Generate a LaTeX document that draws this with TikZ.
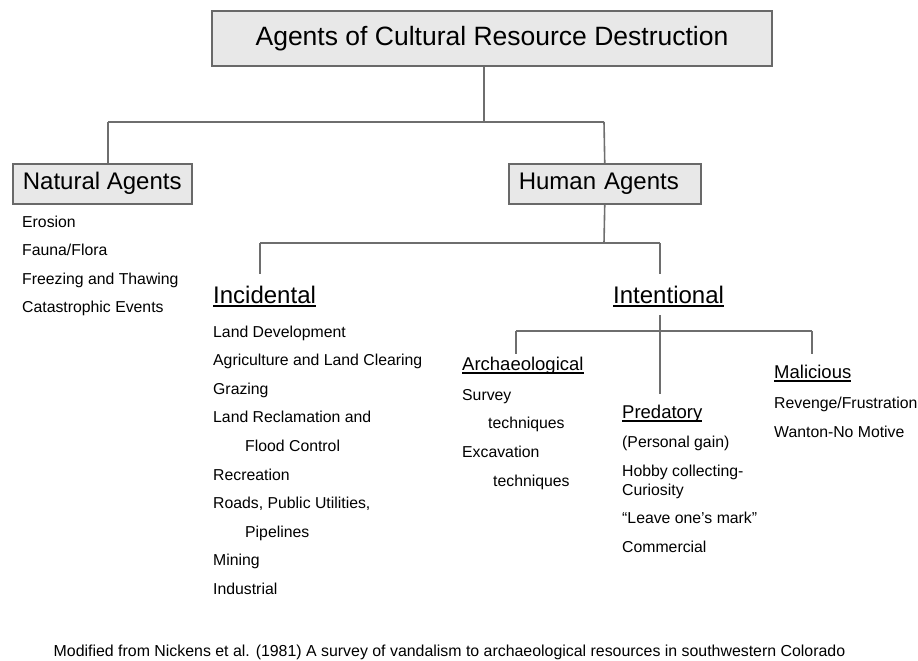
\documentclass[tikz,border=0pt]{standalone}
\usepackage{fontspec}
\setmainfont{Liberation Sans}

\definecolor{boxfill}{RGB}{232,232,232}
\definecolor{boxline}{RGB}{105,105,105}
\definecolor{linegray}{RGB}{110,110,110}

% underlined heading, thicker rule than \underline
\newcommand\undl[1]{\leavevmode\setbox0=\hbox{#1}\rlap{\vrule width\wd0 height-2pt depth3.6pt}\box0}

\begin{document}
\begin{tikzpicture}[
			x=1pt,y=1pt,
			agentbox/.style={
				rectangle,
				draw=boxline,
				fill=boxfill,
				line width=1.5pt,
				minimum height=40pt,
				inner xsep=10pt,
				inner ysep=0pt,
				align=left,
				anchor=north west,
				font=\fontsize{24}{28}\selectfont,
			},
			headline/.style={
				anchor=base west,
				inner sep=0pt,
				font=\fontsize{24}{28}\selectfont,
			},
			subline/.style={
				anchor=base west,
				inner sep=0pt,
				font=\fontsize{18.5}{22}\selectfont,
			},
			itemlist/.style={
				anchor=north west,
				inner sep=0pt,
				align=left,
				font=\fontsize{15.8}{28.6}\selectfont,
			},
			link/.style={
				draw=linegray,
				line width=1.6pt,
			}]
		\useasboundingbox (0,0) rectangle (918,-661);

		\node[rectangle,draw=boxline,fill=boxfill,line width=1.5pt,
			minimum width=560pt,minimum height=55pt,inner sep=0pt,
			font=\fontsize{26.5}{30}\selectfont] (title) at (492,-38.5)
			{Agents of Cultural Resource Destruction};

		\node[agentbox,minimum width=179pt,inner xsep=0pt,align=center] (natural) at (12,-163) {Natural Agents};
		\node[agentbox,text width=172pt] (human)   at (508,-163) {Human Agents};

		\node[itemlist] (natlist) at (22,-215.5)
			{Erosion\\Fauna/Flora\\Freezing and Thawing\\Catastrophic Events};

		\node[headline] (incidental)  at (213,-303) {\undl{Incidental}};
		\node[headline] (intentional) at (613,-303) {\undl{Intentional}};

		\node[itemlist] (incilist) at (213,-325.5)
			{Land Development\\Agriculture and Land Clearing\\Grazing\\
			Land Reclamation and\\\hspace*{32pt}Flood Control\\Recreation\\
			Roads, Public Utilities,\\\hspace*{32pt}Pipelines\\Mining\\Industrial};

		\node[subline] (archaeo)   at (462,-370) {\undl{Archaeological}};
		\node[subline] (predatory) at (622,-418) {\undl{Predatory}};
		\node[subline] (malicious) at (774,-378) {\undl{Malicious}};

		\node[itemlist] (arclist) at (462,-389)
			{Survey\\\hspace*{26pt}techniques\\Excavation\\\hspace*{31pt}techniques};
		\node[itemlist] (predlist) at (622,-436)
			{(Personal gain)\\Hobby collecting-\\[-9.6pt]Curiosity\\%
			“Leave one’s mark”\\Commercial};
		\node[itemlist] (mallist) at (774,-397)
			{Revenge/Frustration\\Wanton-No Motive};

		\node[anchor=base,inner sep=0pt,font=\fontsize{15.9}{18}\selectfont] (source) at (449.5,-656)
			{Modified from Nickens et al. (1981) A survey of vandalism to archaeological resources in southwestern Colorado};

		% tree lines
		\coordinate (j1)  at (484,-122);
		\coordinate (j1l) at (108,-122);
		\coordinate (j1r) at (604,-122);
		\coordinate (j2)  at (604,-243);
		\coordinate (j2l) at (260,-243);
		\coordinate (j2r) at (660,-243);
		\coordinate (incitop) at (260,-274);
		\coordinate (intetop) at (660,-274);
		\coordinate (intebot) at (660,-315);
		\coordinate (predtop) at (660,-394);
		\coordinate (j3l) at (516,-331);
		\coordinate (j3r) at (812,-331);
		\coordinate (arctop) at (516,-354);
		\coordinate (maltop) at (812,-354);

		\path[link] (title.south -| j1) -- (j1);
		\path[link] (j1l) -- (j1r);
		\path[link] (j1l) -- (j1l |- natural.north);
		\path[link] (j1r) -- (human.north);
		\path[link] (human.south) -- (j2);
		\path[link] (j2l) -- (j2r);
		\path[link] (j2l) -- (incitop);
		\path[link] (j2r) -- (intetop);
		\path[link] (intebot) -- (predtop);
		\path[link] (j3l) -- (j3r);
		\path[link] (j3l) -- (arctop);
		\path[link] (j3r) -- (maltop);
	\end{tikzpicture}
\end{document}
